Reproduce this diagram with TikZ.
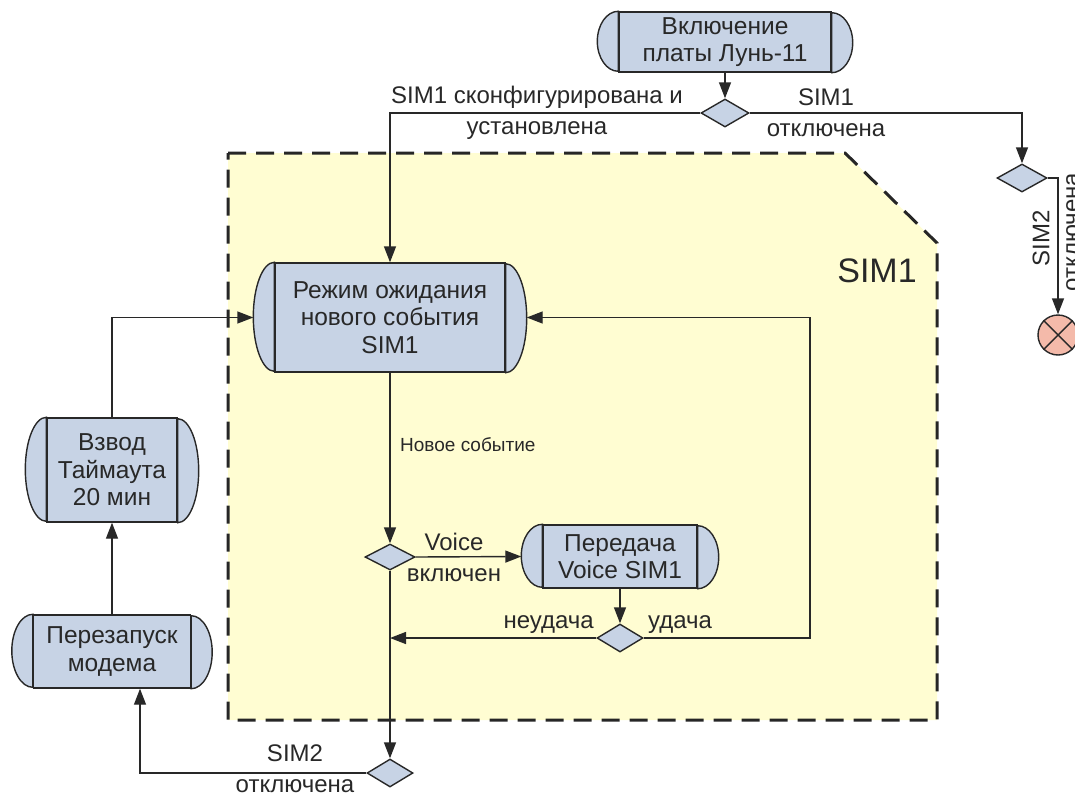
\documentclass[tikz,border=0pt]{standalone}
\usepackage{fontspec}
\setmainfont{Liberation Sans}
\usetikzlibrary{arrows.meta,shapes.geometric}
\definecolor{nodefill}{RGB}{199,211,229}
\definecolor{zonefill}{RGB}{255,253,210}
\definecolor{endfill}{RGB}{244,186,170}
\definecolor{ink}{RGB}{40,40,40}
\newcommand\termbulges[3]{%
  \draw[termline] (#1.north west) arc[start angle=90,end angle=270,x radius=#2,y radius=#3] -- cycle;
  \draw[termline] (#1.south east) arc[start angle=-90,end angle=90,x radius=#2,y radius=#3] -- cycle;}
\begin{document}
\begin{tikzpicture}[x=1pt,y=-1pt,
  termline/.style={draw=ink,line width=1.4pt,fill=nodefill},
  term/.style={draw=ink,line width=1.4pt,fill=nodefill,inner sep=0pt,align=center,
     font=\fontsize{24.5}{27.5}\selectfont,text=ink},
  dec/.style={diamond,draw=ink,line width=1.4pt,fill=nodefill,inner sep=0pt},
  conn/.style={draw=ink,line width=1.4pt,-{Triangle[length=16pt,width=12pt]}},
  lbl/.style={font=\fontsize{24}{31}\selectfont,text=ink,align=center,inner sep=0pt},
  slbl/.style={font=\fontsize{19}{22}\selectfont,text=ink,inner sep=0pt}]
\useasboundingbox (0,0) rectangle (1075,792);
% zone
\path[fill=zonefill,draw=black!85,line width=3pt,dash pattern=on 18pt off 10pt]
  (228,153) -- (845,153) -- (937,243) -- (937,720) -- (228,720) -- cycle;
\node[font=\fontsize{34}{40}\selectfont,text=ink] (zlabel) at (877,271) {SIM1};
% terminals
\node[term,minimum width=212pt,minimum height=60pt] (top) at (725,42) {Включение\\платы Лунь-11};
\termbulges{top}{21pt}{30pt}
\node[term,minimum width=230pt,minimum height=109pt] (main) at (390,317.5) {Режим ожидания\\нового события\\SIM1};
\termbulges{main}{21pt}{54.5pt}
\node[term,minimum width=154pt,minimum height=63pt] (pered) at (620,556.5) {Передача\\Voice SIM1};
\termbulges{pered}{21pt}{31.5pt}
\node[term,minimum width=157pt,minimum height=73pt] (perez) at (112,651.5) {Перезапуск\\модема};
\termbulges{perez}{21pt}{36.5pt}
\node[term,minimum width=130pt,minimum height=104pt] (vzvod) at (112,470) {Взвод\\Таймаута\\20 мин};
\termbulges{vzvod}{21pt}{52pt}
% decisions
\node[dec,minimum width=48pt,minimum height=28pt] (d1) at (725,113) {};
\node[dec,minimum width=50pt,minimum height=28pt] (d2) at (1022,178) {};
\node[dec,minimum width=50pt,minimum height=26pt] (d3) at (390,557) {};
\node[dec,minimum width=46pt,minimum height=28pt] (d4) at (620,638) {};
\node[dec,minimum width=46pt,minimum height=28pt] (d5) at (390,773) {};
\node[circle,draw=ink,line width=1.4pt,fill=endfill,minimum size=40pt,inner sep=0pt] (fin) at (1058,335) {};
\draw[ink,line width=1.4pt] (fin.north west) -- (fin.south east) (fin.north east) -- (fin.south west);
\coordinate (rt) at (810,0);
% connectors
\draw[conn] (top.south) -- (d1.north);
\draw[conn] (d1.west) -| (main.north);
\draw[conn] (d1.east) -| (d2.north);
\draw[conn] (d2.east) -| (fin.north);
\draw[conn] (main.south) -- (d3.north);
\draw[conn] (d3.east) -- ([xshift=-21pt]pered.west);
\draw[conn] (pered.south) -- (d4.north);
\draw[conn] (d4.west) -- (d4.west -| d3.south);
\draw[conn] (d4.east) -| (rt |- main.east) -- ([xshift=21pt]main.east);
\draw[conn] (d3.south) -- (d5.north);
\draw[conn] (d5.west) -| ([xshift=28pt]perez.south);
\draw[conn] (perez.north) -- (vzvod.south);
\draw[conn] (vzvod.north) |- ([xshift=-21pt]main.west);
% labels
\node[lbl] (l1) at (537,113) {SIM1 сконфигурирована и\\установлена};
\node[lbl] (l2) at (826,113) {SIM1\\отключена};
\node[lbl,rotate=90] (l3) at (1041,238) {SIM2};
\node[lbl,rotate=90,anchor=north] (l4) at (1066,232) {отключена};
\node[slbl,anchor=west] (l5) at (400,445) {Новое событие};
\node[lbl] (l6) at (454,557) {Voice\\включен};
\node[lbl,anchor=east] (l7) at (594,625) {неудача};
\node[lbl,anchor=west] (l8) at (648,625) {удача};
\node[lbl] (l9) at (295,769) {SIM2\\отключена};
\end{tikzpicture}
\end{document}
